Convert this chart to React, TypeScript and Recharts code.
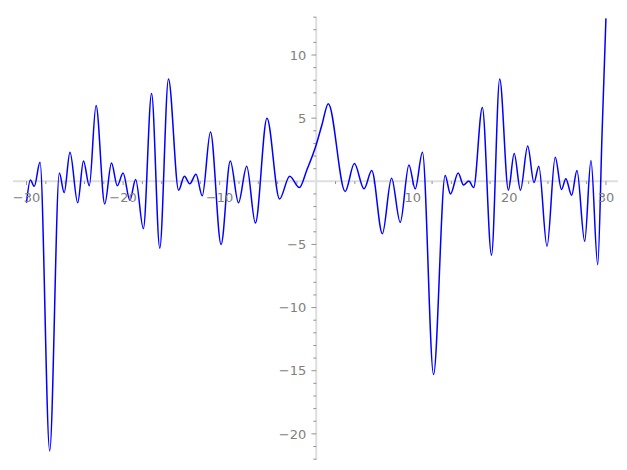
import { LineChart, Line, XAxis, YAxis, ReferenceLine, ReferenceDot } from "recharts"

// curve samples (mostly the local extremes)
const xs = [
  -30, -29.6, -29.2, -28.6, -27.6, -26.6, -26.1, -25.5, -24.7, -24.1, -23.5, -22.8, -21.9, -21.2, -20.6, -20.0,
  -19.3, -18.7, -17.9, -17.05, -16.2, -15.3, -14.25, -13.65, -13.1, -12.45, -11.8, -10.95, -9.85, -8.9, -8.05,
  -7.2, -6.3, -5.1, -3.8, -2.75, -1.75, -0.97, 0, 0.6, 1.25, 3.0, 3.95, 4.95, 5.75, 6.85, 7.8, 8.7,
  9.6, 10.25, 11.0, 12.15, 13.35, 13.9, 14.7, 15.25, 15.8, 16.3, 17.2, 18.15, 19.0, 19.9, 20.5, 21.15, 21.9,
  22.55, 23.05, 23.9, 24.75, 25.4, 25.85, 26.45, 27.0, 27.8, 28.45, 29.15, 29.6, 30,
]
const ys = [
  -1.7, 0.1, -0.4, 1.5, -21.35, 0.65, -0.9, 2.3, -1.7, 1.6, -0.35, 6.0, -1.8, 1.45, -0.35, 0.65,
  -1.5, 0.15, -3.75, 6.95, -5.3, 8.1, -0.7, 0.4, -0.2, 0.55, -1.15, 3.9, -5.0, 1.6, -1.7,
  1.2, -3.3, 5.0, -1.4, 0.4, -0.5, 0.9, 2.9, 4.5, 6.15, -0.8, 1.4, -0.6, 0.85, -4.15, 0.25, -3.25,
  1.3, -0.6, 2.3, -15.3, 0.45, -1.0, 0.65, -0.3, 0.03, -0.5, 5.85, -5.85, 8.1, -0.7, 2.2, -0.7, 2.8,
  -0.1, 1.2, -5.15, 1.9, -0.65, 0.2, -1.1, 0.85, -4.75, 1.65, -6.6, 3.8, 12.9,
]

const xLabels = [-30, -20, -10, 10, 20, 30]
const yLabels = [10, 5, -5, -10, -15, -20]
const xMinor = [-30, -28, -26, -24, -22, -20, -18, -16, -14, -12, -10, -8, -6, -4, -2, 2, 4, 6, 8, 10, 12, 14, 16, 18, 20, 22, 24, 26, 28, 30]
const yMinor = [13, 12, 11, 10, 9, 8, 7, 6, 5, 4, 3, 2, 1, -1, -2, -3, -4, -5, -6, -7, -8, -9, -10, -11, -12, -13, -14, -15, -16, -17, -18, -19, -20, -21, -22]

const data = xs.map((x, i) => ({ x, y: ys[i] }))

const AXIS = "#dedede"
const TICK = "#777777"
const TEXT = "#808080"
const FONT = "DejaVu Sans, sans-serif"

const fmt = (v: number) => (v < 0 ? "\u2212" + Math.abs(v) : String(v))

const xLab = (v: number) => (props: any) => (
  <text x={props.cx} y={props.cy + 20.5} textAnchor="middle" fontSize={13} fontFamily={FONT} fill={TEXT}>
    {fmt(v)}
  </text>
)

const yLab = (v: number) => (props: any) => (
  <text x={props.cx - 10} y={props.cy + 4.7} textAnchor="end" fontSize={13} fontFamily={FONT} fill={TEXT}>
    {fmt(v)}
  </text>
)

export default function App() {
  return (
    <div style={{ position: "absolute", left: 0, top: 0 }}>
      <LineChart width={627} height={470} data={data} margin={{ top: 17, right: 9, bottom: 10, left: 13 }}>
        <XAxis type="number" dataKey="x" domain={[-31.4, 31.25]} hide allowDataOverflow />
        <YAxis type="number" domain={[-22.07, 13.01]} hide allowDataOverflow />
        <ReferenceLine y={0} stroke={AXIS} strokeWidth={2} />
        <ReferenceLine x={0} stroke={AXIS} strokeWidth={2} />
        {xMinor.map((v) => (
          <ReferenceLine
            key={"xt" + v}
            segment={[{ x: v, y: 0 }, { x: v, y: xLabels.includes(v) ? -0.3 : -0.22 }]}
            stroke={TICK}
            strokeWidth={0.8}
          />
        ))}
        {yMinor.map((v) => (
          <ReferenceLine
            key={"yt" + v}
            segment={[{ x: yLabels.includes(v) ? -0.5 : -0.3, y: v }, { x: 0, y: v }]}
            stroke={TICK}
            strokeWidth={0.8}
          />
        ))}
        {xLabels.map((v) => (
          <ReferenceDot key={"xl" + v} x={v} y={0} r={0} shape={xLab(v)} />
        ))}
        {yLabels.map((v) => (
          <ReferenceDot key={"yl" + v} x={0} y={v} r={0} shape={yLab(v)} />
        ))}
        <Line
          type="monotone"
          dataKey="y"
          stroke="#0000ff"
          strokeWidth={1.5}
          dot={false}
          isAnimationActive={false}
        />
      </LineChart>
    </div>
  )
}
